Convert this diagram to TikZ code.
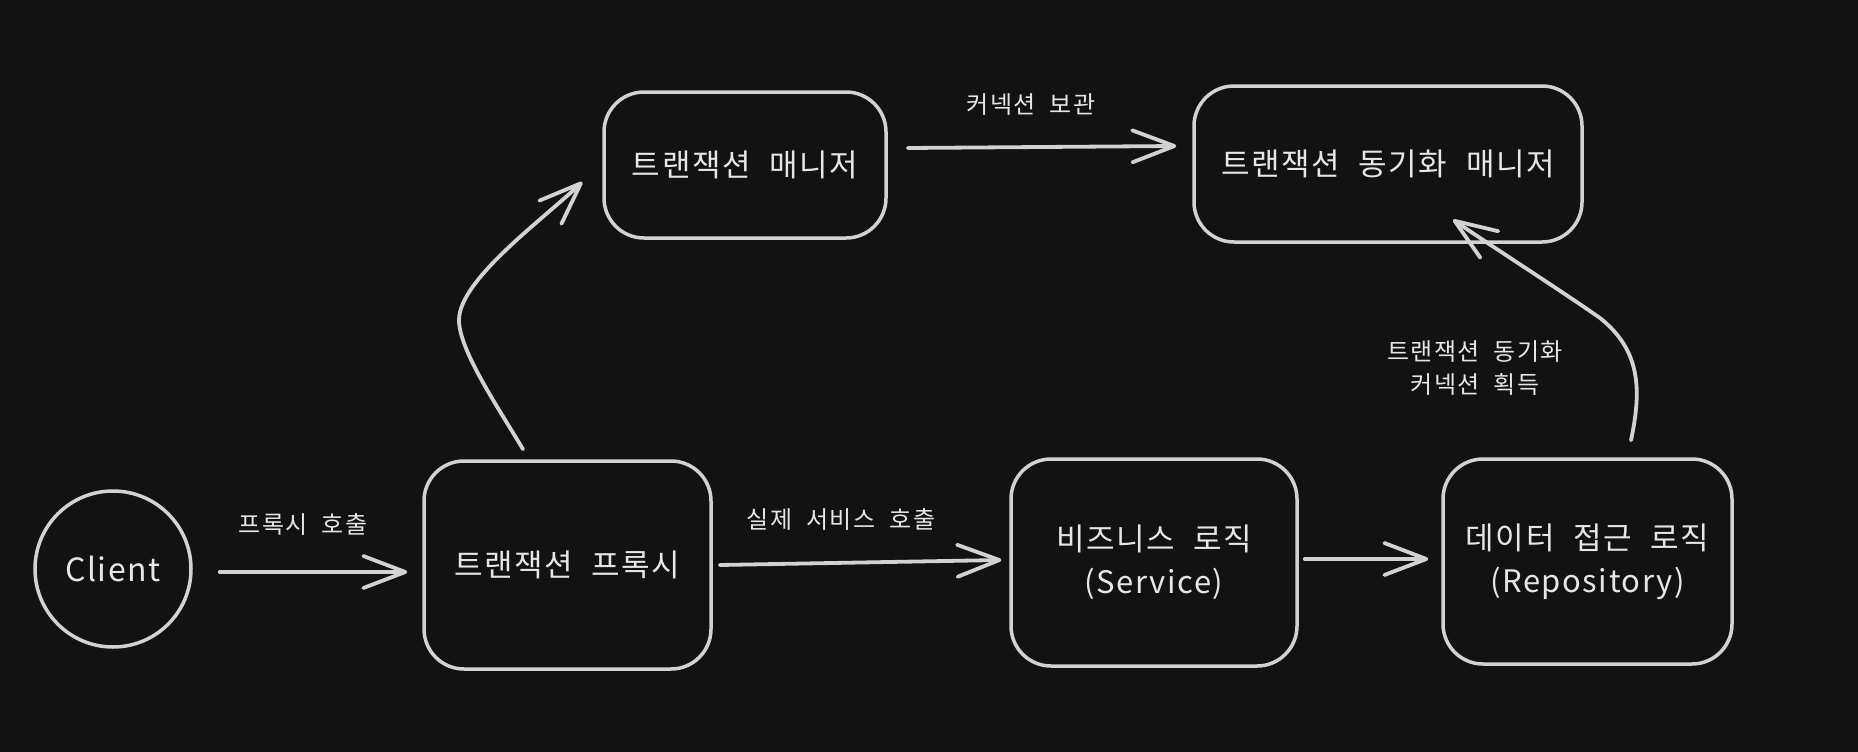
\documentclass[tikz,border=0pt]{standalone}
\usepackage{fontspec}
\setmainfont{Noto Sans CJK KR}[LetterSpace=5,WordSpace=2.2]
\usetikzlibrary{arrows.meta}
\definecolor{bg}{RGB}{18,18,18}
\definecolor{ink}{RGB}{210,210,210}
\definecolor{txt}{RGB}{230,230,230}
\begin{document}
\begin{tikzpicture}[x=1pt,y=-1pt,
  every node/.style={text=txt},
  box/.style={draw=ink, line width=3.5pt, rounded corners=40pt, inner sep=0pt, align=center, font=\fontsize{31}{43}\selectfont},
  roundnode/.style={draw=ink, line width=3.5pt, circle, inner sep=0pt, font=\fontsize{32}{40}\selectfont},
  lbl/.style={font=\fontsize{24}{33}\selectfont, align=center, inner sep=0pt},
  arr/.style={draw=ink, line width=3.8pt, line cap=round, line join=round, -{Straight Barb[length=42pt,width=32pt,round]}}
]
\fill[bg] (0,0) rectangle (1858,752);
\useasboundingbox (0,0) rectangle (1858,752);

\node[roundnode, minimum size=156pt] (client) at (113,569) {Client};
\node[box, minimum width=282pt, minimum height=146pt] (tm) at (745,165) {트랜잭션 매니저};
\node[box, minimum width=388pt, minimum height=156pt] (sync) at (1388,164) {트랜잭션 동기화 매니저};
\node[box, minimum width=287pt, minimum height=208pt] (proxy) at (567.5,565) {트랜잭션 프록시};
\node[box, minimum width=286pt, minimum height=207pt] (service) at (1154,562.5) {비즈니스 로직\\(Service)};
\node[box, minimum width=289pt, minimum height=205pt] (repo) at (1587.5,561.5) {데이터 접근 로직\\(Repository)};

\node[lbl] (l1) at (303,524) {프록시 호출};
\node[lbl] (l2) at (841,519) {실제 서비스 호출};
\node[lbl] (l3) at (1031,105) {커넥션 보관};
\node[lbl] (l4) at (1475,368) {트랜잭션 동기화\\커넥션 획득};

\coordinate (bendA) at (459,320);
\coordinate (bendB) at (1600,318);

\draw[arr] ([xshift=27pt,yshift=-3pt]client.east) -- ([xshift=-15pt,yshift=-7pt]proxy.west);
\draw[arr] ([xshift=20pt,yshift=17pt]tm.east) -- ([xshift=-16pt,yshift=18pt]sync.west);
\draw[arr] ([xshift=7pt]proxy.east) -- ([xshift=-8pt,yshift=2.5pt]service.west);
\draw[arr] ([xshift=6pt,yshift=3.5pt]service.east) -- ([xshift=-13pt,yshift=2.5pt]repo.west);

\draw[arr] ([xshift=-44.5pt,yshift=10pt]proxy.north) .. controls +(-25,-42) and +(0,30) .. (bendA)
  .. controls +(0,-40) and +(-40,38) .. ([xshift=-20pt,yshift=-17pt]tm.west);
\draw[arr] ([xshift=43.5pt,yshift=17pt]repo.north) .. controls +(11,-52) and +(40,32) .. (bendB)
  .. controls +(-40,-28) and +(47,32) .. ([xshift=65pt,yshift=24pt]sync.south);
\end{tikzpicture}
\end{document}
